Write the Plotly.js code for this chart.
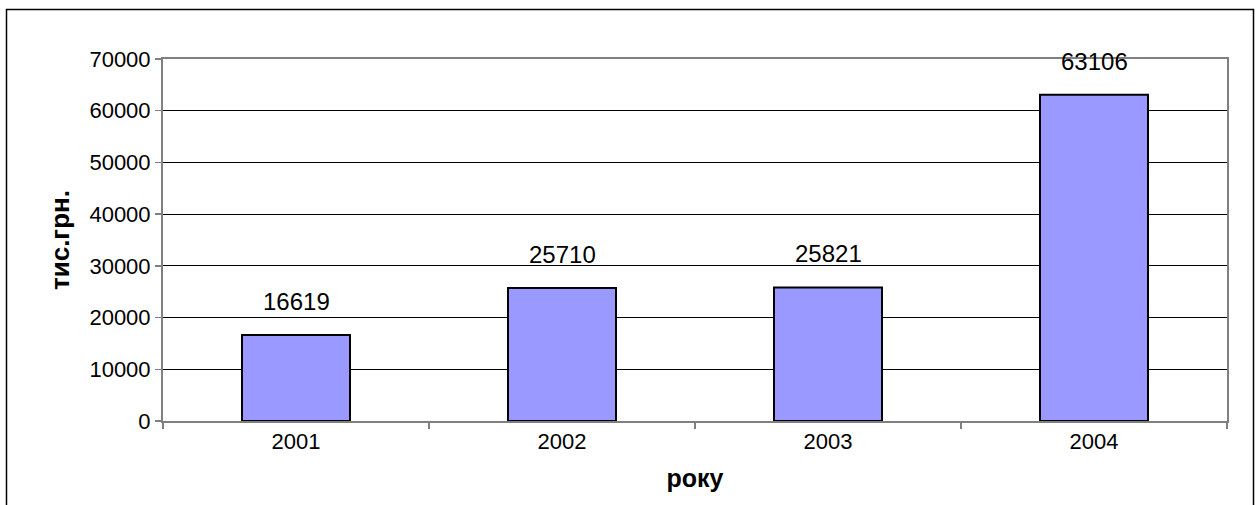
<!DOCTYPE html>
<html>
<head>
<meta charset="utf-8">
<script src="https://cdn.plot.ly/plotly-3.0.1.min.js"></script>
<style>html,body{margin:0;padding:0;background:#fff;}#chart{width:1256px;height:505px;}</style>
</head>
<body>
<div id="chart"></div>
<script>
const years = ["2001", "2002", "2003", "2004"];
const values = [16619, 25710, 25821, 63106];
const yTitle = "тис.грн.";
const xTitle = "року";

const FONT = "Liberation Sans, Arial, sans-serif";

const trace = {
  type: "bar",
  x: years,
  y: values,
  marker: {color: "#9999FF", line: {color: "#000000", width: 2}},
  hoverinfo: "none"
};

const annotations = years.map((yr, i) => ({
  x: i, y: values[i], xref: "x", yref: "y",
  text: String(values[i]), showarrow: false,
  yanchor: "bottom", yshift: 18,
  font: {family: FONT, size: 24, color: "#000"}
}));

const layout = {
  width: 1256, height: 505,
  margin: {l: 163, r: 29, t: 59, b: 84},
  paper_bgcolor: "#fff", plot_bgcolor: "#fff",
  showlegend: false,
  bargap: 0.594,
  font: {family: FONT, color: "#000"},
  xaxis: {
    type: "category",
    range: [-0.5, years.length - 0.5],
    autorange: false,
    tickson: "boundaries",
    ticks: "outside", ticklen: 6, tickcolor: "#808080", tickwidth: 1.5,
    showline: true, linecolor: "#808080", linewidth: 2, mirror: true,
    showgrid: false,
    tickangle: 0,
    tickfont: {family: FONT, size: 22, color: "#000"},
    title: {text: xTitle, standoff: 16, font: {family: FONT, size: 25, color: "#000", weight: "bold"}},
    fixedrange: true
  },
  yaxis: {
    range: [0, 70000],
    autorange: false,
    dtick: 10000,
    tickformat: "d",
    ticks: "outside", ticklen: 6, tickcolor: "#808080", tickwidth: 1.5,
    showline: true, linecolor: "#808080", linewidth: 2, mirror: true,
    showgrid: true, gridcolor: "#000000", gridwidth: 1,
    zeroline: false,
    tickfont: {family: FONT, size: 22, color: "#000"},
    title: {text: yTitle, standoff: 12, font: {family: FONT, size: 26, color: "#000", weight: "bold"}},
    fixedrange: true
  },
  annotations: annotations,
  shapes: [{
    type: "rect", xref: "paper", yref: "paper",
    x0: (6.5 - 163) / 1064, x1: (1253.5 - 163) / 1064,
    y0: (421 - 520) / 362, y1: (421 - 9.5) / 362,
    line: {color: "#000", width: 1.5}, fillcolor: "rgba(0,0,0,0)", layer: "below"
  }]
};

Plotly.newPlot("chart", [trace], layout, {displayModeBar: false, staticPlot: true});
</script>
</body>
</html>
